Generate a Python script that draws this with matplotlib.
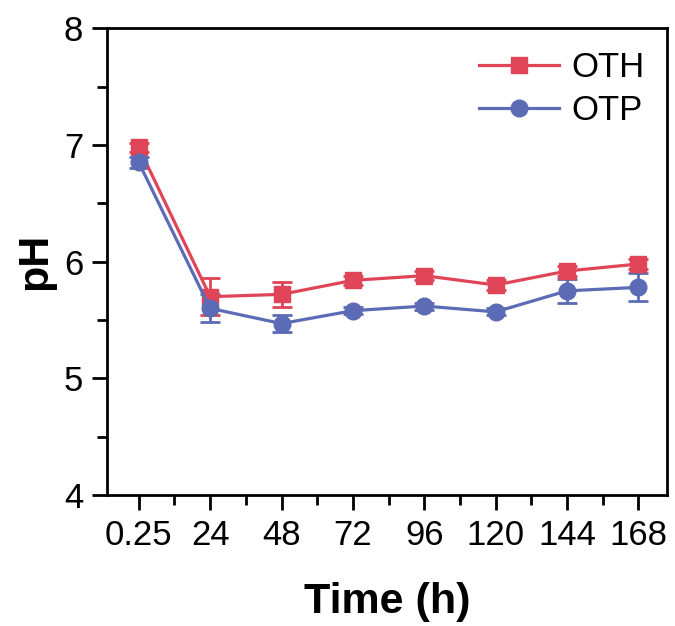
import numpy as np
import matplotlib.pyplot as plt
from matplotlib.ticker import MultipleLocator

plt.rcParams['font.family'] = ['Liberation Sans', 'DejaVu Sans']

time_labels = ["0.25", "24", "48", "72", "96", "120", "144", "168"]
oth_ph = [6.98, 5.70, 5.72, 5.84, 5.88, 5.80, 5.92, 5.98]
oth_err = [0.04, 0.16, 0.11, 0.04, 0.04, 0.04, 0.04, 0.04]
otp_ph = [6.85, 5.60, 5.47, 5.58, 5.62, 5.57, 5.75, 5.78]
otp_err = [0.05, 0.12, 0.07, 0.03, 0.03, 0.03, 0.10, 0.12]

x = np.arange(len(time_labels))
red = "#E04457"
blue = "#5B6BB5"

fig = plt.figure(figsize=(6.75, 6.26), dpi=100)
ax = fig.add_axes([0.158, 0.209, 0.830, 0.746])

ax.errorbar(x, oth_ph, yerr=oth_err, color=red, marker="s", markersize=11,
            lw=2.3, capsize=7, capthick=2, elinewidth=2)
ax.errorbar(x, otp_ph, yerr=otp_err, color=blue, marker="o", markersize=12,
            lw=2.3, capsize=7, capthick=2, elinewidth=2)

# legend only shows line + marker
ax.plot([], [], color=red, marker="s", markersize=11, lw=2.3, label="OTH")
ax.plot([], [], color=blue, marker="o", markersize=12, lw=2.3, label="OTP")

ax.set_xlim(-0.45, 7.4)
ax.set_ylim(4, 8)
ax.set_xticks(x)
ax.set_xticklabels(time_labels)
ax.xaxis.set_minor_locator(MultipleLocator(0.5))
ax.yaxis.set_major_locator(MultipleLocator(1))
ax.yaxis.set_minor_locator(MultipleLocator(0.5))
ax.tick_params(which="major", direction="out", length=11, width=2, labelsize=25, pad=6)
ax.tick_params(which="minor", direction="out", length=7, width=2)
for s in ax.spines.values():
    s.set_linewidth(2)

ax.set_xlabel("Time (h)", fontsize=31, fontweight="bold", labelpad=22)
ax.set_ylabel("pH", fontsize=31, fontweight="bold", labelpad=6)

ax.legend(loc="upper right", frameon=False, fontsize=25, handlelength=2.3,
          handletextpad=0.35, borderaxespad=0.25, labelspacing=0.3)

fig.savefig("out.png", dpi=100)
